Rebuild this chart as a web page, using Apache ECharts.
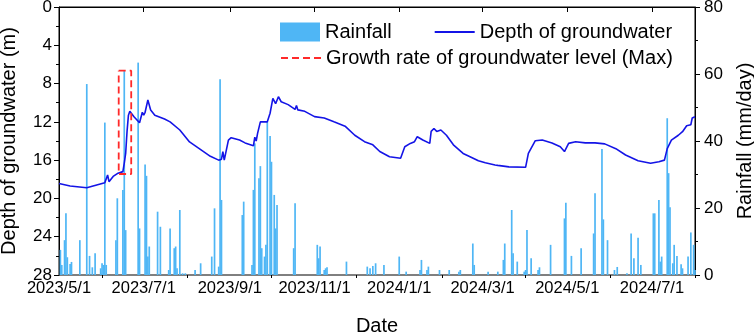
<!DOCTYPE html>
<html><head><meta charset="utf-8">
<script src="https://cdn.jsdelivr.net/npm/echarts@6/dist/echarts.min.js"></script>
<style>html,body{margin:0;padding:0;background:#fff}#c{width:754px;height:334px}</style>
</head><body><div id="c"></div>
<script>
const startDate = '2023-05-01', endDate = '2024-08-01';
const xTickLabels = ['2023/5/1','2023/7/1','2023/9/1','2023/11/1','2024/1/1','2024/3/1','2024/5/1','2024/7/1'];

const rainDates = ['2023-05-02','2023-05-03','2023-05-05','2023-05-06','2023-05-07','2023-05-09','2023-05-10','2023-05-16','2023-05-21','2023-05-23','2023-05-25','2023-05-27','2023-05-31','2023-06-01','2023-06-02','2023-06-03','2023-06-04','2023-06-11','2023-06-12','2023-06-16','2023-06-17','2023-06-18','2023-06-27','2023-06-28','2023-07-02','2023-07-03','2023-07-04','2023-07-05','2023-07-11','2023-07-13','2023-07-19','2023-07-20','2023-07-23','2023-07-24','2023-07-25','2023-07-27','2023-07-29','2023-07-31','2023-08-07','2023-08-11','2023-08-19','2023-08-21','2023-08-24','2023-08-25','2023-08-26','2023-09-10','2023-09-11','2023-09-17','2023-09-18','2023-09-19','2023-09-22','2023-09-23','2023-09-24','2023-09-26','2023-09-27','2023-09-28','2023-09-30','2023-10-01','2023-10-03','2023-10-04','2023-10-05','2023-10-17','2023-10-18','2023-11-03','2023-11-04','2023-11-05','2023-11-08','2023-11-09','2023-11-10','2023-11-24','2023-12-09','2023-12-11','2023-12-13','2023-12-15','2023-12-21','2024-01-01','2024-01-06','2024-01-16','2024-01-17','2024-01-21','2024-01-22','2024-01-30','2024-02-06','2024-02-13','2024-02-14','2024-02-23','2024-02-24','2024-03-05','2024-03-12','2024-03-16','2024-03-17','2024-03-22','2024-03-23','2024-03-26','2024-03-31','2024-04-01','2024-04-02','2024-04-05','2024-04-10','2024-04-11','2024-04-19','2024-04-29','2024-04-30','2024-05-04','2024-05-11','2024-05-20','2024-05-21','2024-05-26','2024-05-27','2024-05-30','2024-06-04','2024-06-06','2024-06-13','2024-06-16','2024-06-18','2024-06-21','2024-06-23','2024-07-02','2024-07-03','2024-07-06','2024-07-07','2024-07-08','2024-07-12','2024-07-13','2024-07-14','2024-07-16','2024-07-17','2024-07-19','2024-07-22','2024-07-23','2024-07-27','2024-07-29','2024-07-31','2024-08-01'];
const rainValues = [7.5,3.0,10.4,18.4,5.3,3.3,3.9,10.4,57,5.7,2.3,6.5,2.0,3.5,3.0,45.5,3.0,10.4,22.9,25.4,60.9,13.4,63.4,13.9,33.0,29.6,5.5,8.5,18.9,14.4,1.5,13.9,8.0,8.5,2.0,19.4,0.5,0.5,1.5,3.5,5.5,19.9,2.5,58.4,22.4,17.9,21.9,3.0,25.4,39.3,28.9,32.5,8.0,5.5,9.0,45.8,41.5,33.8,23.9,13.9,20.9,8.0,21.4,9.0,5.0,8.5,1.5,2.0,2.3,4.0,2.5,2.0,2.7,3.5,3.0,5.5,1.0,1.5,4.5,1.5,2.5,1.5,1.5,1.0,1.5,9.4,3.0,1.0,1.0,4.5,9.4,19.4,6.5,4.0,1.0,1.5,13.4,5.0,1.5,2.3,9.0,16.9,21.6,5.7,8.0,12.4,24.4,37.6,16.6,10.4,1.5,2.4,0.5,12.4,5.0,11.1,3.0,18.4,18.4,22.4,4.0,5.5,46.8,30.4,20.2,3.5,9.0,5.7,3.2,2.0,5.5,12.7,9.0,1.5];

const depthDates = ['2023-05-01','2023-05-09','2023-05-21','2023-06-03','2023-06-05','2023-06-06','2023-06-09','2023-06-12','2023-06-16','2023-06-17','2023-06-18','2023-06-19','2023-06-20','2023-06-21','2023-06-24','2023-06-28','2023-06-30','2023-07-01','2023-07-02','2023-07-04','2023-07-06','2023-07-09','2023-07-16','2023-07-20','2023-07-27','2023-08-03','2023-08-10','2023-08-18','2023-08-24','2023-08-26','2023-08-27','2023-08-28','2023-08-31','2023-09-02','2023-09-08','2023-09-12','2023-09-18','2023-09-19','2023-09-20','2023-09-21','2023-09-23','2023-09-26','2023-09-28','2023-09-30','2023-10-02','2023-10-04','2023-10-06','2023-10-08','2023-10-13','2023-10-18','2023-10-19','2023-10-20','2023-10-25','2023-11-01','2023-11-08','2023-11-15','2023-11-23','2023-11-30','2023-12-07','2023-12-13','2023-12-18','2023-12-25','2024-01-02','2024-01-05','2024-01-09','2024-01-12','2024-01-14','2024-01-18','2024-01-23','2024-01-24','2024-01-26','2024-01-28','2024-01-31','2024-02-04','2024-02-09','2024-02-16','2024-02-21','2024-02-27','2024-03-03','2024-03-10','2024-03-11','2024-03-12','2024-03-20','2024-04-01','2024-04-03','2024-04-08','2024-04-13','2024-04-20','2024-04-26','2024-04-29','2024-05-02','2024-05-07','2024-05-14','2024-05-21','2024-05-28','2024-06-05','2024-06-12','2024-06-21','2024-06-30','2024-07-06','2024-07-10','2024-07-12','2024-07-15','2024-07-20','2024-07-23','2024-07-26','2024-07-29','2024-07-30','2024-08-01'];
const depthValues = [18.45,18.7,18.88,18.36,17.55,18.25,17.7,17.4,17.2,16.3,15.3,13.0,11.3,10.9,11.46,12.1,11.0,11.3,11.0,9.72,10.76,11.3,11.7,12.0,12.85,14.1,14.8,15.6,16.0,15.9,15.1,16.0,13.9,13.65,13.9,14.2,14.5,13.6,14.0,13.2,12.0,12.0,12.0,11.1,9.55,10.1,9.37,9.9,10.2,10.7,10.3,10.75,10.9,11.45,11.6,12.0,12.45,13.4,14.07,14.4,15.1,15.64,15.8,14.6,14.25,14.07,13.55,13.9,14.25,13.0,12.7,13.0,12.85,13.4,14.4,15.3,15.64,16.06,16.27,16.5,16.3,16.55,16.7,16.75,15.3,13.97,13.9,14.2,14.6,15.1,14.25,14.07,14.2,14.2,14.3,14.8,15.46,16.06,16.33,16.16,16.0,14.8,13.9,13.4,13.03,12.4,12.3,11.6,11.46];

const boxDates = ['2023-06-13','2023-06-22','2023-06-22','2023-06-13','2023-06-13'];
const boxDepth = [6.65,6.65,17.45,17.45,6.65];

function fmt(d){const m=d.getUTCMonth()+1, dd=d.getUTCDate();return d.getUTCFullYear()+'-'+(m<10?'0':'')+m+'-'+(dd<10?'0':'')+dd;}
const days=[];
for(let t=Date.parse(startDate+'T00:00:00Z'); t<=Date.parse(endDate+'T00:00:00Z'); t+=86400000) days.push(fmt(new Date(t)));
const idx={}; days.forEach((d,i)=>idx[d]=i);
function toLabel(v){const p=v.split('-');return p[0]+'/'+(+p[1])+'/'+(+p[2]);}
const majorSet=new Set(xTickLabels);
const isMajor=(i,v)=>majorSet.has(toLabel(v));
const isMinor=(i,v)=>v.slice(8)==='01' && !majorSet.has(toLabel(v));

const rainData=days.map(()=>null);
rainDates.forEach((d,i)=>{rainData[idx[d]]=rainValues[i];});
const depthData=depthDates.map((d,i)=>[idx[d],depthValues[i]]);
const boxData=boxDates.map((d,i)=>[idx[d],boxDepth[i]]);

const FONT='"Liberation Sans", Arial, sans-serif';
const hiddenSym={color:'rgba(0,0,0,0)',borderColor:'rgba(0,0,0,0)',borderWidth:0,opacity:0};
const chart=echarts.init(document.getElementById('c'));
chart.setOption({
  animation:false,
  textStyle:{fontFamily:FONT,color:'#000'},
  grid:{left:59,right:59,top:7,bottom:59,outerBoundsMode:'none',containLabel:false,show:true,borderColor:'#000',borderWidth:1,backgroundColor:'transparent'},
  legend:[
    {left:275,top:17,itemWidth:40,itemHeight:19,itemGap:42,textStyle:{fontSize:20,fontFamily:FONT,color:'#000'},
     data:[{name:'Rainfall',icon:'rect'},{name:'Depth of groundwater',itemStyle:hiddenSym}]},
    {left:275,top:43,itemWidth:40,itemHeight:19,textStyle:{fontSize:20,fontFamily:FONT,color:'#000'},
     data:[{name:'Growth rate of groundwater level (Max)',itemStyle:hiddenSym}]}
  ],
  xAxis:[
    {type:'category',data:days,boundaryGap:false,position:'bottom',
     name:'Date',nameLocation:'middle',nameGap:41,nameTextStyle:{fontSize:20,fontFamily:FONT,color:'#000'},
     axisLine:{lineStyle:{color:'#000',width:1}},
     axisTick:{interval:isMajor,length:5,lineStyle:{color:'#000'}},
     axisLabel:{interval:isMajor,formatter:toLabel,fontSize:16.5,color:'#000',fontFamily:FONT,margin:5},
     splitLine:{show:false}},
    {type:'category',data:days,boundaryGap:false,position:'bottom',
     axisLine:{show:false},
     axisTick:{interval:isMinor,length:3,lineStyle:{color:'#000'}},
     axisLabel:{show:false},splitLine:{show:false}}
  ],
  yAxis:[
    {type:'value',inverse:true,min:0,max:28,interval:4,position:'left',
     name:'Depth of groundwater (m)',nameLocation:'middle',nameGap:40,nameRotate:90,
     nameTextStyle:{fontSize:20,fontFamily:FONT,color:'#000'},
     axisLine:{show:true,lineStyle:{color:'#000'}},
     axisTick:{show:true,length:5,lineStyle:{color:'#000'}},
     minorTick:{show:true,splitNumber:2,length:3,lineStyle:{color:'#000'}},
     axisLabel:{fontSize:17,color:'#000',fontFamily:FONT,margin:7},
     splitLine:{show:false}},
    {type:'value',min:0,max:80,interval:20,position:'right',
     name:'Rainfall (mm/day)',nameLocation:'middle',nameGap:40,nameRotate:90,
     nameTextStyle:{fontSize:20,fontFamily:FONT,color:'#000'},
     axisLine:{show:true,lineStyle:{color:'#000'}},
     axisTick:{show:true,length:5,lineStyle:{color:'#000'}},
     minorTick:{show:true,splitNumber:2,length:3,lineStyle:{color:'#000'}},
     axisLabel:{fontSize:17,color:'#000',fontFamily:FONT,margin:9},
     splitLine:{show:false}}
  ],
  series:[
    {name:'Rainfall',type:'bar',xAxisIndex:0,yAxisIndex:1,data:rainData,barWidth:1.7,
     itemStyle:{color:'#4fb6f5'},z:2},
    {name:'Depth of groundwater',type:'line',xAxisIndex:0,yAxisIndex:0,data:depthData,
     symbol:'none',smooth:false,lineStyle:{color:'#1414e6',width:1.6},itemStyle:{color:'#1414e6'},z:3},
    {name:'Growth rate of groundwater level (Max)',type:'line',xAxisIndex:0,yAxisIndex:0,data:boxData,
     symbol:'none',lineStyle:{color:'#ff2a2a',width:1.8,type:[7,4]},itemStyle:{color:'#ff2a2a'},z:4}
  ]
});
</script></body></html>
